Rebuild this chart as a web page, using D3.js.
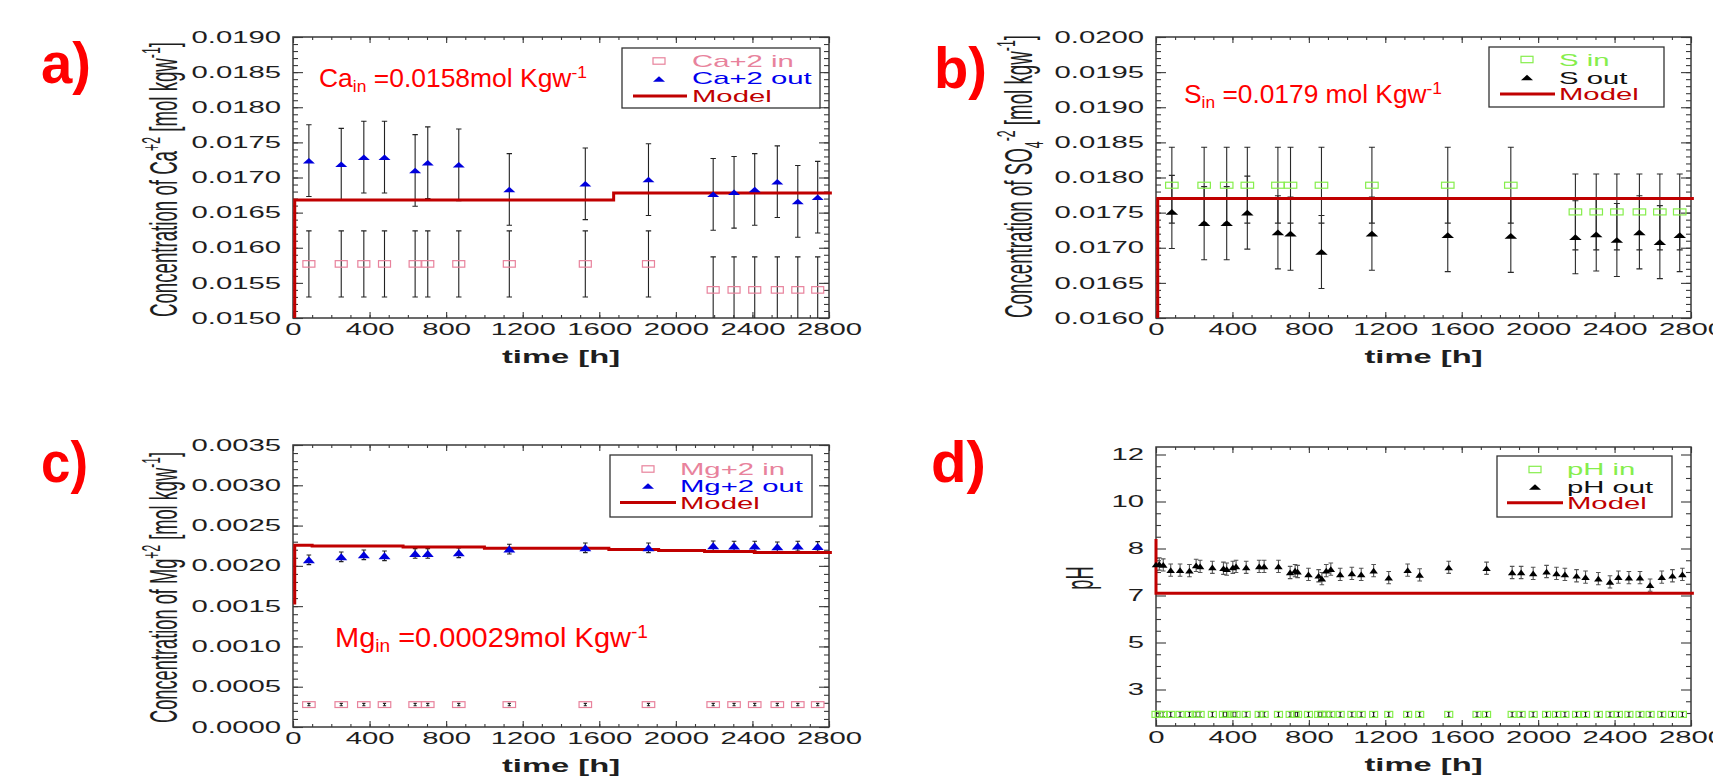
<!DOCTYPE html>
<html>
<head>
<meta charset="utf-8">
<script src="https://cdn.jsdelivr.net/npm/d3@7"></script>
<style>
  html, body { margin: 0; background: #fff; }
  svg { display: block; }
</style>
</head>
<body>
<svg id="chart"></svg>
<script>
// sampling times [h] shared by the Ca, S and Mg measurements
const sampleTime = [83, 252, 370, 478, 638, 704, 866, 1130, 1527, 1857, 2195, 2304, 2412, 2530, 2637, 2741];

const caIn = [0.01577, 0.01577, 0.01577, 0.01577, 0.01577, 0.01577, 0.01577, 0.01577, 0.01577, 0.01577,
  0.01540, 0.01540, 0.01540, 0.01540, 0.01540, 0.01540];
const caOut = [0.01724, 0.01719, 0.01729, 0.01729, 0.01710, 0.01721, 0.01718, 0.01683, 0.01691, 0.01697,
  0.01676, 0.01679, 0.01683, 0.01694, 0.01666, 0.01672];
const caInErr = 0.00047;
const caOutErr = 0.00051;
const caModelTime = [9, 9, 1675, 2815];
const caModel = [0.0150, 0.01668, 0.01678, 0.01678];

const sIn = [0.01789, 0.01789, 0.01789, 0.01789, 0.01789, 0.01789, 0.01789, 0.01789, 0.01789, 0.01789,
  0.01751, 0.01751, 0.01751, 0.01751, 0.01751, 0.01751];
const sOut = [0.01751, 0.01735, 0.01735, 0.01750, 0.01722, 0.01720, 0.01694, 0.01720, 0.01718, 0.01717,
  0.01715, 0.01719, 0.01711, 0.01722, 0.01708, 0.01718];
const sInErr = 0.00054;
const sOutErr = 0.00052;
const sModelTime = [9, 9, 2815];
const sModel = [0.0160, 0.01770, 0.01770];

const mgIn = [0.000278, 0.000278, 0.000278, 0.000278, 0.000278, 0.000278, 0.000278, 0.000278,
  0.000278, 0.000278, 0.000278, 0.000278, 0.000278, 0.000278, 0.000278, 0.000278];
const mgOut = [0.002075, 0.002112, 0.002137, 0.002125, 0.002154, 0.002154, 0.002162, 0.002208, 0.002224, 0.002224,
  0.002249, 0.002245, 0.002245, 0.002237, 0.002245, 0.002241];
const mgInErr = 0.000015;
const mgOutErr = 0.00006;
const mgModelTime = [9, 9, 100, 575, 1000, 1650, 1910, 2150, 2410, 2815];
const mgModel = [0.00152, 0.002257, 0.002245, 0.002233, 0.002220, 0.002204, 0.002191, 0.002179, 0.002166, 0.002166];

const phOutTime = [0, 17, 38, 77, 126, 175, 210, 231, 295, 353, 370, 402, 419, 472, 540, 566, 641, 702, 728, 741,
  798, 851, 868, 891, 915, 964, 1025, 1074, 1139, 1218, 1317, 1380, 1532, 1730, 1864, 1911, 1974, 2044, 2096, 2140,
  2201, 2248, 2315, 2376, 2420, 2475, 2533, 2586, 2647, 2703, 2755];
const phOut = [7.66, 7.67, 7.65, 7.54, 7.54, 7.53, 7.64, 7.62, 7.60, 7.58, 7.56, 7.60, 7.62, 7.60, 7.62, 7.62, 7.62,
  7.49, 7.53, 7.51, 7.45, 7.42, 7.36, 7.53, 7.56, 7.45, 7.47, 7.45, 7.53, 7.38, 7.54, 7.44, 7.60, 7.58, 7.49, 7.49,
  7.47, 7.51, 7.47, 7.45, 7.42, 7.39, 7.36, 7.29, 7.39, 7.38, 7.38, 7.22, 7.39, 7.42, 7.45];
const phInTime = [0, 17, 38, 77, 126, 175, 210, 231, 295, 353, 370, 402, 419, 472, 540, 566, 641, 702, 728, 741,
  798, 851, 868, 891, 915, 964, 1025, 1074, 1139, 1218, 1317, 1380, 1532, 1680, 1730, 1864, 1911, 1974, 2044, 2096,
  2140, 2201, 2248, 2315, 2376, 2420, 2475, 2533, 2586, 2647, 2703, 2755];
const phIn = [1.94, 1.94, 1.94, 1.94, 1.94, 1.94, 1.94, 1.94, 1.94, 1.94, 1.94, 1.94, 1.94, 1.94, 1.94, 1.94, 1.94,
  1.94, 1.94, 1.94, 1.94, 1.94, 1.94, 1.94, 1.94, 1.94, 1.94, 1.94, 1.94, 1.94, 1.94, 1.94, 1.94, 1.94, 1.94, 1.94,
  1.94, 1.94, 1.94, 1.94, 1.94, 1.94, 1.94, 1.94, 1.94, 1.94, 1.94, 1.94, 1.94, 1.94, 1.94, 1.94];
const phOutErr = 0.13;
const phInErr = 0.1;
const phModelTime = [0, 0, 2815];
const phModel = [8.4, 7.05, 7.05];

const xTicks = [0, 400, 800, 1200, 1600, 2000, 2400, 2800];
const caTicks = [0.0150, 0.0155, 0.0160, 0.0165, 0.0170, 0.0175, 0.0180, 0.0185, 0.0190];
const sTicks = [0.0160, 0.0165, 0.0170, 0.0175, 0.0180, 0.0185, 0.0190, 0.0195, 0.0200];
const mgTicks = [0.0000, 0.0005, 0.0010, 0.0015, 0.0020, 0.0025, 0.0030, 0.0035];
const phTicks = [3, 5, 7, 8, 10, 12];

const FONT = '"Liberation Sans", Arial, sans-serif';
const SX = 1.83;   // the plot lettering is stretched sideways
const TSX = 2.15;
const AX = '#3a3a3a';
const MODEL = '#c00000';
const PINK = '#e8829c';
const BLUE = '#0000dc';
const GREEN = '#86ee4c';

const svg = d3.select('#chart').attr('width', 1713).attr('height', 779).attr('font-family', FONT);

const xMinor = d3.range(0, 29).map(i => i * 100);
const minorOf = (lo, hi, step) => d3.range(0, Math.round((hi - lo) / step) + 1).map(i => lo + i * step);
const phMinor = [2.0, 2.5];
phTicks.slice(1).forEach((v, i) => {
  const p = phTicks[i];
  [1, 2, 3].forEach(k => phMinor.push(p + (v - p) * k / 4));
});

const tri = (cx, cy, w, h) => `M${cx},${cy - h / 2}L${cx + w / 2},${cy + h / 2}L${cx - w / 2},${cy + h / 2}Z`;

function rich(sel, parts, size) {
  let shift = 0;
  parts.forEach(pt => {
    const want = pt.sup ? -pt.sup : (pt.sub || 0);
    sel.append('tspan')
      .attr('dy', want - shift)
      .attr('font-size', pt.sup || pt.sub ? size * 0.66 : size)
      .text(pt.s);
    shift = want;
  });
}

function drawPanel(p) {
  const { l, r, t, b } = p.box;
  const x = d3.scaleLinear().domain([0, 2800]).range([l, r]);
  const y = p.y;
  const g = svg.append('g');

  svg.append('clipPath').attr('id', `clip-${p.id}`)
    .append('rect').attr('x', l).attr('y', t).attr('width', r - l).attr('height', b - t);

  const ticks = (axis, tr) => {
    const a = g.append('g').attr('transform', tr).call(axis)
      .attr('font-family', FONT).attr('font-size', 16);
    a.select('.domain').remove();
    a.selectAll('line').attr('stroke', AX).attr('stroke-width', 1.1);
    return a;
  };

  ticks(d3.axisBottom(x).tickValues(xMinor).tickSize(-3).tickFormat(''), `translate(0,${b})`);
  ticks(d3.axisTop(x).tickValues(xMinor).tickSize(-3).tickFormat(''), `translate(0,${t})`);
  ticks(d3.axisTop(x).tickValues(xTicks).tickSize(-6).tickFormat(''), `translate(0,${t})`);
  ticks(d3.axisBottom(x).tickValues(xTicks).tickSize(-6).tickPadding(6).tickFormat(d3.format('d')), `translate(0,${b})`)
    .selectAll('text').attr('fill', '#1e1e1e').attr('transform', `scale(${SX},1)`);

  ticks(d3.axisLeft(y).tickValues(p.yMinor).tickSize(-5).tickFormat(''), `translate(${l},0)`);
  ticks(d3.axisRight(y).tickValues(p.yMinor).tickSize(-5).tickFormat(''), `translate(${r},0)`);
  ticks(d3.axisRight(y).tickValues(p.yTicks).tickSize(-10).tickFormat(''), `translate(${r},0)`);
  ticks(d3.axisLeft(y).tickValues(p.yTicks).tickSize(-10).tickFormat(p.fmt), `translate(${l},0)`)
    .selectAll('text').attr('x', -12 / SX).attr('fill', '#1e1e1e').attr('transform', `scale(${SX},1)`);

  g.append('rect').attr('x', l).attr('y', t).attr('width', r - l).attr('height', b - t)
    .attr('fill', 'none').attr('stroke', AX).attr('stroke-width', 1.5);

  // error bars
  const clip = g.append('g').attr('clip-path', `url(#clip-${p.id})`);
  p.series.forEach(s => {
    clip.append('g').selectAll('path').data(s.t).join('path')
      .attr('d', (d, i) => {
        const cx = x(d), y1 = y(s.v[i] + s.err), y2 = y(s.v[i] - s.err);
        return `M${cx},${y1}V${y2}M${cx - s.cap},${y1}H${cx + s.cap}M${cx - s.cap},${y2}H${cx + s.cap}`;
      })
      .attr('fill', 'none')
      .attr('stroke', s.errColor)
      .attr('stroke-width', 1.1);
  });

  // model
  const line = d3.line()
    .x(d => x(d[0]))
    .y(d => y(d[1]))
    .curve(d3.curveStepAfter);
  g.append('path')
    .datum(p.model.t.map((d, i) => [d, p.model.v[i]]))
    .attr('fill', 'none')
    .attr('stroke', MODEL)
    .attr('stroke-width', 3)
    .attr('d', line);

  // markers
  p.series.forEach(s => {
    const m = g.append('g');
    if (s.kind === 'sq') {
      m.selectAll('rect').data(s.t).join('rect')
        .attr('x', d => x(d) - s.w / 2)
        .attr('y', (d, i) => y(s.v[i]) - s.h / 2)
        .attr('width', s.w)
        .attr('height', s.h)
        .attr('fill', 'none')
        .attr('stroke', s.color)
        .attr('stroke-width', 1.2);
    } else {
      m.selectAll('path').data(s.t).join('path')
        .attr('d', (d, i) => tri(x(d), y(s.v[i]), s.w, s.h))
        .attr('fill', s.color);
    }
  });

  // legend
  const L = p.legend;
  const lg = g.append('g');
  lg.append('rect')
    .attr('x', L.box[0]).attr('y', L.box[1])
    .attr('width', L.box[2] - L.box[0]).attr('height', L.box[3] - L.box[1])
    .attr('fill', '#fff').attr('stroke', '#333').attr('stroke-width', 1.3);
  const rows = [
    { kind: 'sq', color: p.series[0].color, text: p.series[0].name, textColor: p.series[0].textColor },
    { kind: 'tri', color: p.series[1].color, text: p.series[1].name, textColor: p.series[1].textColor },
    { kind: 'line', color: MODEL, text: 'Model', textColor: MODEL }
  ];
  rows.forEach((row, i) => {
    const sy = L.symY[i];
    if (row.kind === 'sq') {
      lg.append('rect').attr('x', L.symX - 6).attr('y', sy - 3.2).attr('width', 12).attr('height', 6.4)
        .attr('fill', 'none').attr('stroke', row.color).attr('stroke-width', 1.2);
    } else if (row.kind === 'tri') {
      lg.append('path').attr('d', tri(L.symX, sy, 12, 5.5)).attr('fill', row.color);
    } else {
      lg.append('line').attr('x1', L.line[0]).attr('x2', L.line[1]).attr('y1', sy).attr('y2', sy)
        .attr('stroke', MODEL).attr('stroke-width', 3);
    }
    lg.append('text')
      .attr('transform', `translate(${L.textX},${L.base[i]}) scale(${SX},1)`)
      .attr('font-size', 16)
      .attr('fill', row.textColor)
      .text(row.text);
  });

  // axis titles
  g.append('text')
    .attr('transform', `translate(${(l + r) / 2},${b + 45}) scale(${SX},1)`)
    .attr('text-anchor', 'middle')
    .attr('font-size', 17.9)
    .attr('font-weight', 'bold')
    .attr('fill', '#1e1e1e')
    .text('time [h]');

  const yt = g.append('text')
    .attr('transform', `translate(${p.title.x},${p.title.y}) scale(${TSX},1) rotate(-90)`)
    .attr('text-anchor', 'middle')
    .attr('fill', '#1e1e1e');
  if (p.title.len) yt.attr('textLength', p.title.len).attr('lengthAdjust', 'spacingAndGlyphs');
  rich(yt, p.title.parts, 18.2);

  // panel letter
  g.append('text')
    .attr('x', p.label.x).attr('y', p.label.y)
    .attr('font-size', 58).attr('font-weight', 'bold').attr('fill', '#ff0000')
    .attr('textLength', p.label.w).attr('lengthAdjust', 'spacingAndGlyphs')
    .text(p.label.s);

  // inlet concentration note
  if (p.note) {
    const nt = g.append('text')
      .attr('x', p.note.x).attr('y', p.note.y)
      .attr('fill', '#ff0000')
      .attr('textLength', p.note.len).attr('lengthAdjust', 'spacingAndGlyphs');
    rich(nt, p.note.parts, p.note.size);
  }
}

const fmt4 = d3.format('.4f');
const phRange = phTicks.map((d, i) => 689.5 - i * 47);

drawPanel({
  id: 'a', box: { l: 293, r: 829, t: 37, b: 318 },
  y: d3.scaleLinear().domain([0.015, 0.019]).range([318, 37]),
  yTicks: caTicks, yMinor: minorOf(0.015, 0.019, 0.0001), fmt: fmt4,
  series: [
    { name: 'Ca+2 in', t: sampleTime, v: caIn, err: caInErr, kind: 'sq', color: PINK, textColor: PINK, w: 12, h: 6.5, cap: 2.7, errColor: '#222' },
    { name: 'Ca+2 out', t: sampleTime, v: caOut, err: caOutErr, kind: 'tri', color: BLUE, textColor: '#0000ee', w: 12, h: 5.5, cap: 2.7, errColor: '#222' }
  ],
  model: { t: caModelTime, v: caModel },
  legend: { box: [622, 48, 820, 108], symX: 659, symY: [61, 79, 96], line: [633, 687], textX: 692, base: [66.5, 84, 101.5] },
  title: { x: 177, y: 179.5, len: 275, parts: [{ s: 'Concentration of Ca' }, { s: '+2', sup: 8 }, { s: ' [mol kgw' }, { s: '-1', sup: 8 }, { s: ']' }] },
  label: { s: 'a)', x: 41, y: 83, w: 50 },
  note: { x: 319, y: 87, size: 25, len: 268, parts: [{ s: 'Ca' }, { s: 'in', sub: 5 }, { s: ' =0.0158mol Kgw' }, { s: '-1', sup: 9 }] }
});

drawPanel({
  id: 'b', box: { l: 1156, r: 1691, t: 37, b: 318 },
  y: d3.scaleLinear().domain([0.016, 0.020]).range([318, 37]),
  yTicks: sTicks, yMinor: minorOf(0.016, 0.020, 0.0001), fmt: fmt4,
  series: [
    { name: 'S in', t: sampleTime, v: sIn, err: sInErr, kind: 'sq', color: GREEN, textColor: GREEN, w: 12.5, h: 6, cap: 3, errColor: '#2a2a2a' },
    { name: 'S out', t: sampleTime, v: sOut, err: sOutErr, kind: 'tri', color: '#000', textColor: '#111', w: 12.5, h: 5.7, cap: 3, errColor: '#2a2a2a' }
  ],
  model: { t: sModelTime, v: sModel },
  legend: { box: [1489, 47, 1664, 107], symX: 1527, symY: [59.5, 77.5, 94], line: [1500, 1555], textX: 1559, base: [66, 83.5, 100] },
  title: { x: 1032, y: 176.5, len: 283, parts: [{ s: 'Concentration of SO' }, { s: '4', sub: 5 }, { s: '-2', sup: 8 }, { s: ' [mol kgw' }, { s: '-1', sup: 8 }, { s: ']' }] },
  label: { s: 'b)', x: 934, y: 88, w: 53 },
  note: { x: 1184, y: 102.7, size: 26, len: 258, parts: [{ s: 'S' }, { s: 'in', sub: 5 }, { s: ' =0.0179 mol Kgw' }, { s: '-1', sup: 9 }] }
});

drawPanel({
  id: 'c', box: { l: 293, r: 829, t: 445, b: 727 },
  y: d3.scaleLinear().domain([0, 0.0035]).range([727, 445]),
  yTicks: mgTicks, yMinor: minorOf(0, 0.0035, 0.0001), fmt: fmt4,
  series: [
    { name: 'Mg+2 in', t: sampleTime, v: mgIn, err: mgInErr, kind: 'sq', color: PINK, textColor: PINK, w: 12.5, h: 5.8, cap: 1.6, errColor: '#222' },
    { name: 'Mg+2 out', t: sampleTime, v: mgOut, err: mgOutErr, kind: 'tri', color: BLUE, textColor: '#0000ee', w: 12, h: 7, cap: 2.3, errColor: '#222' }
  ],
  model: { t: mgModelTime, v: mgModel },
  legend: { box: [610, 455, 812, 517], symX: 648, symY: [469, 486, 502.5], line: [620, 676], textX: 680, base: [474.5, 492, 508.5] },
  title: { x: 177, y: 587.5, len: 271, parts: [{ s: 'Concentration of Mg' }, { s: '+2', sup: 8 }, { s: ' [mol kgw' }, { s: '-1', sup: 8 }, { s: ']' }] },
  label: { s: 'c)', x: 41, y: 482, w: 47 },
  note: { x: 335, y: 646.7, size: 27, len: 313, parts: [{ s: 'Mg' }, { s: 'in', sub: 5 }, { s: ' =0.00029mol Kgw' }, { s: '-1', sup: 9 }] }
});

drawPanel({
  id: 'd', box: { l: 1156, r: 1691, t: 447, b: 726 },
  y: d3.scaleLinear().domain(phTicks).range(phRange),
  yTicks: phTicks, yMinor: phMinor, fmt: d3.format('d'),
  series: [
    { name: 'pH in', t: phInTime, v: phIn, err: phInErr, kind: 'sq', color: GREEN, textColor: GREEN, w: 8, h: 6, cap: 1.6, errColor: '#111' },
    { name: 'pH out', t: phOutTime, v: phOut, err: phOutErr, kind: 'tri', color: '#000', textColor: '#111', w: 8.5, h: 5.7, cap: 2.3, errColor: '#555' }
  ],
  model: { t: phModelTime, v: phModel },
  legend: { box: [1497, 456, 1672, 517], symX: 1535, symY: [469.5, 487, 502.7], line: [1507, 1563], textX: 1567, base: [475, 492.7, 509.3] },
  title: { x: 1093, y: 578, parts: [{ s: 'pH' }] },
  label: { s: 'd)', x: 931, y: 482, w: 55 }
});
</script>
</body>
</html>
